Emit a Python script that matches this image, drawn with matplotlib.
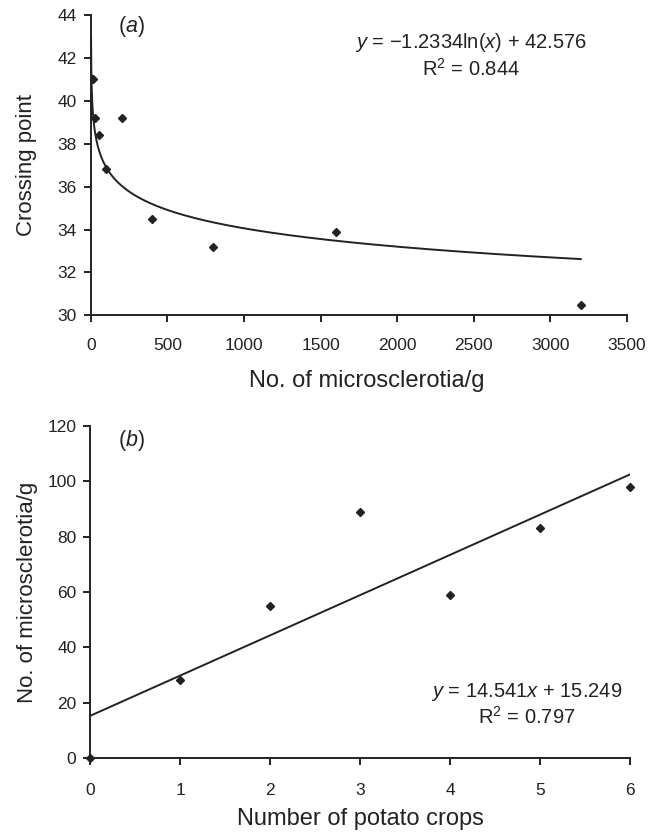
import numpy as np
import matplotlib.pyplot as plt

# panel (a): crossing point vs. microsclerotia/g
ms_per_g = [3.125, 6.25, 12.5, 25, 50, 100, 200, 400, 800, 1600, 3200]
crossing = [41.0, 41.0, 41.0, 39.2, 38.4, 36.8, 39.2, 34.5, 33.2, 33.9, 30.5]
log_a, log_b = -1.2334, 42.576

# panel (b): microsclerotia/g vs. number of potato crops
crops = [0, 1, 2, 3, 4, 5, 6]
ms_b = [0, 28, 55, 89, 59, 83, 98]
lin_a, lin_b = 14.541, 15.249

plt.rcParams["font.family"] = ["Liberation Sans", "DejaVu Sans"]
plt.rcParams["mathtext.fontset"] = "custom"
plt.rcParams["mathtext.rm"] = "Liberation Sans"
plt.rcParams["mathtext.it"] = "Liberation Sans:italic"

TXT = "#222222"
LW = 1.4
TICK_FS = 12.5
LAB_FS = 17
EQ_FS = 14.5


def style(ax, xpad):
    for s in ("top", "right"):
        ax.spines[s].set_visible(False)
    for s in ("left", "bottom"):
        ax.spines[s].set_linewidth(LW)
        ax.spines[s].set_color(TXT)
    ax.tick_params(direction="out", length=5, width=LW, colors=TXT,
                   labelsize=TICK_FS)
    ax.tick_params(axis="y", pad=5)
    ax.tick_params(axis="x", pad=xpad)


fig = plt.figure(figsize=(6.59, 8.32), dpi=100)

# ---- (a)
ax1 = fig.add_axes([0.138, 0.621, 0.813, 0.361])
xs = np.linspace(0.7, 3200, 4000)
ax1.plot(xs, log_a * np.log(xs) + log_b, color=TXT, lw=LW)
ax1.plot(ms_per_g, crossing, "D", color=TXT, ms=4, zorder=3)
ax1.set_xlim(0, 3500)
ax1.set_ylim(30, 44)
ax1.set_xticks(range(0, 3501, 500))
ax1.set_yticks(range(30, 45, 2))
style(ax1, 11)
ax1.set_ylabel("Crossing point", fontsize=16, color=TXT, va="center")
ax1.yaxis.set_label_coords(-0.121, 0.5)
ax1.set_xlabel("No. of microsclerotia/g", fontsize=LAB_FS, color=TXT,
               va="center")
ax1.xaxis.set_label_coords(0.515, -0.22)
ax1.text(0.05, 0.96, "($a$)", transform=ax1.transAxes, fontsize=15.5,
         color=TXT, va="center")
ax1.text(0.709, 0.907, "$y$ = \u22121.2334ln($x$) + 42.576",
         transform=ax1.transAxes, fontsize=EQ_FS, color=TXT,
         ha="center", va="center")
ax1.text(0.709, 0.82, "R$^2$ = 0.844", transform=ax1.transAxes,
         fontsize=EQ_FS, color=TXT, ha="center", va="center")

# ---- (b)
ax2 = fig.add_axes([0.137, 0.089, 0.819, 0.399])
xl = np.array([0, 6])
ax2.plot(xl, lin_a * xl + lin_b, color=TXT, lw=LW)
ax2.plot(crops, ms_b, "D", color=TXT, ms=4, zorder=3, clip_on=False)
ax2.set_xlim(0, 6)
ax2.set_ylim(0, 120)
ax2.set_xticks(crops)
ax2.set_yticks(range(0, 121, 20))
style(ax2, 13)
ax2.set_ylabel("No. of microsclerotia/g", fontsize=16, color=TXT, va="center")
ax2.yaxis.set_label_coords(-0.116, 0.5)
ax2.set_xlabel("Number of potato crops", fontsize=LAB_FS, color=TXT,
               va="center")
ax2.xaxis.set_label_coords(0.5, -0.184)
ax2.text(0.052, 0.955, "($b$)", transform=ax2.transAxes, fontsize=15.5,
         color=TXT, va="center")
ax2.text(0.809, 0.199, "$y$ = 14.541$x$ + 15.249", transform=ax2.transAxes,
         fontsize=EQ_FS, color=TXT, ha="center", va="center")
ax2.text(0.809, 0.123, "R$^2$ = 0.797", transform=ax2.transAxes,
         fontsize=EQ_FS, color=TXT, ha="center", va="center")

fig.savefig("out.png", dpi=100)
